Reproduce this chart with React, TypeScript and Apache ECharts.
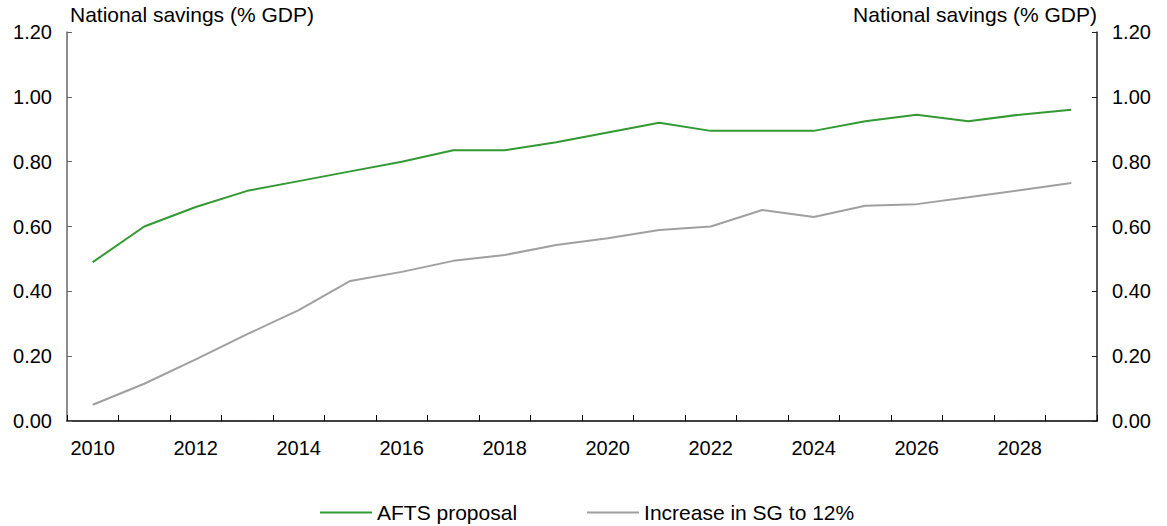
import React, { useEffect, useRef } from "react";
import * as echarts from "echarts";

const years = ["2010","2011","2012","2013","2014","2015","2016","2017","2018","2019","2020","2021","2022","2023","2024","2025","2026","2027","2028","2029"];
const afts = [0.49,0.60,0.66,0.71,0.74,0.77,0.80,0.835,0.835,0.86,0.89,0.92,0.895,0.895,0.895,0.925,0.945,0.925,0.945,0.96];
const sg12 = [0.05,0.115,0.19,0.268,0.342,0.432,0.46,0.494,0.512,0.543,0.564,0.589,0.60,0.651,0.629,0.664,0.669,0.69,0.712,0.734];
const axisName = "National savings (% GDP)";

export default function App() {
  const ref = useRef<HTMLDivElement>(null);
  useEffect(() => {
    const chart = echarts.init(ref.current!, null, { renderer: "svg" });
    const font = "Liberation Sans, Arial, sans-serif";
    const yBase = {
      type: "value",
      min: 0,
      max: 1.2,
      interval: 0.2,
      name: axisName,
      nameLocation: "end",
      nameGap: 7,
      splitLine: { show: false },
      axisLabel: { fontSize: 20, color: "#000", fontFamily: font, margin: 15, formatter: (v: number) => v.toFixed(2) },
    };
    chart.setOption({
      animation: false,
      textStyle: { fontFamily: font },
      grid: { left: 67, right: 70, top: 32, bottom: 105, outerBoundsMode: "none", containLabel: false },
      legend: {
        top: 497,
        left: 315,
        itemWidth: 52,
        itemHeight: 2,
        itemGap: 70,
        icon: "rect",
        textStyle: { fontSize: 21, color: "#000", fontFamily: font },
        data: ["AFTS proposal", "Increase in SG to 12%"],
      },
      xAxis: {
        type: "category",
        data: years,
        boundaryGap: true,
        axisLine: { lineStyle: { color: "#000", width: 1.5 } },
        axisTick: { show: true, inside: true, length: 6, interval: 0, lineStyle: { color: "#000" } },
        axisLabel: { interval: 1, fontSize: 20, color: "#000", fontFamily: font, margin: 17 },
      },
      yAxis: [
        {
          ...yBase,
          position: "left",
          axisLine: { show: true, lineStyle: { color: "#666", width: 1.5 } },
          axisTick: { show: true, inside: true, length: 5, lineStyle: { color: "#666" } },
          nameTextStyle: { fontSize: 21, color: "#000", fontFamily: font, align: "left", padding: [0, 0, 0, 3] },
        },
        {
          ...yBase,
          position: "right",
          axisLine: { show: true, lineStyle: { color: "#222", width: 1.5 } },
          axisTick: { show: true, inside: true, length: 5, lineStyle: { color: "#222" } },
          nameTextStyle: { fontSize: 21, color: "#000", fontFamily: font, align: "right", padding: [0, 0, 0, 0] },
        },
      ],
      series: [
        {
          name: "AFTS proposal",
          type: "line",
          data: afts,
          symbol: "none",
          lineStyle: { color: "#339933", width: 2 },
          itemStyle: { color: "#339933" },
        },
        {
          name: "Increase in SG to 12%",
          type: "line",
          data: sg12,
          symbol: "none",
          lineStyle: { color: "#a0a0a0", width: 2 },
          itemStyle: { color: "#a0a0a0" },
        },
      ],
    });
    return () => chart.dispose();
  }, []);
  return <div ref={ref} style={{ position: "absolute", left: 0, top: 0, width: 1167, height: 526 }} />;
}
